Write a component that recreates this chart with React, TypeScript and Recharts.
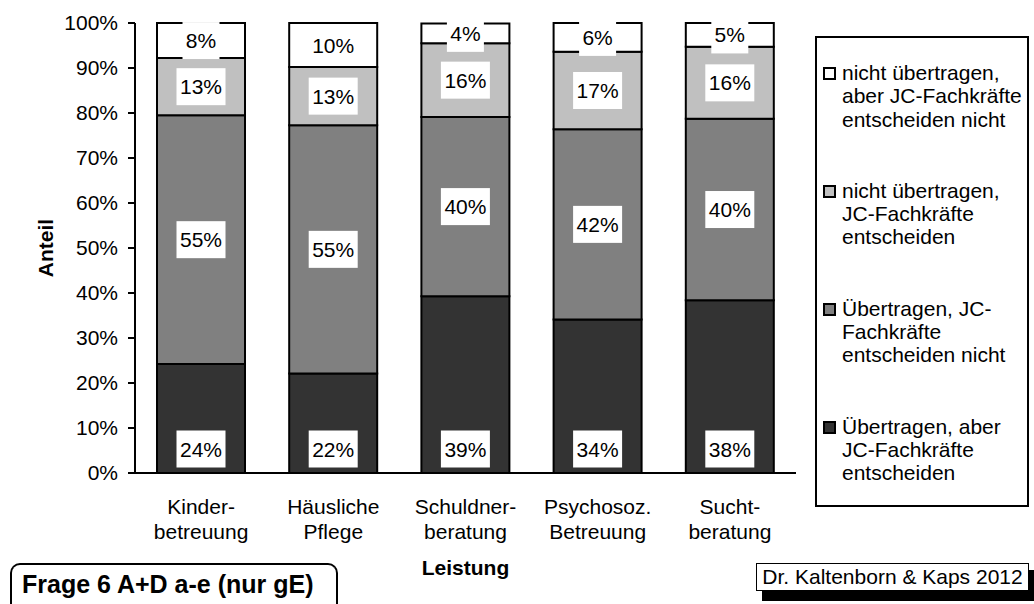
import React from 'react';
import { BarChart, Bar, XAxis, YAxis, LabelList, Label } from 'recharts';

// Leistungen (x categories), line break marks the hyphenated wrap
const categories = ['Kinder-\nbetreuung', 'Häusliche\nPflege', 'Schuldner-\nberatung', 'Psychosoz.\nBetreuung', 'Sucht-\nberatung'];

// shares in percent
const uebertragenAberEntscheiden = [24.2, 22.1, 39.3, 34.1, 38.4];
const uebertragenNichtEntscheiden = [55.3, 55.2, 39.8, 42.3, 40.3];
const nichtUebertragenEntscheiden = [12.7, 12.9, 16.4, 17.2, 16.0];
const nichtUebertragenNicht = [7.8, 9.8, 4.4, 6.4, 5.3];

const yTicks = [0, 10, 20, 30, 40, 50, 60, 70, 80, 90, 100];

const series = [
    { key: 'a', name: 'Übertragen, aber\nJC-Fachkräfte\nentscheiden', fill: '#333333', values: uebertragenAberEntscheiden },
    { key: 'b', name: 'Übertragen, JC-\nFachkräfte\nentscheiden nicht', fill: '#808080', values: uebertragenNichtEntscheiden },
    { key: 'c', name: 'nicht übertragen,\nJC-Fachkräfte\nentscheiden', fill: '#c0c0c0', values: nichtUebertragenEntscheiden },
    { key: 'd', name: 'nicht übertragen,\naber JC-Fachkräfte\nentscheiden nicht', fill: '#ffffff', values: nichtUebertragenNicht },
];

const data = categories.map((name, i) => {
    const row: any = { name };
    series.forEach(s => { row[s.key] = s.values[i]; });
    return row;
});

const FONT = 'Arial, "Liberation Sans", sans-serif';

const makeLabel = (atBottom: boolean) => (props: any) => {
    const { x, y, width, height, value } = props;
    const txt = Math.round(value) + '%';
    const w = txt.length > 2 ? 49 : 37;
    const h = 37;
    const cx = x + width / 2;
    const cy = atBottom ? y + height - 24 : y + height / 2;
    return (
        <g>
            <rect x={cx - w / 2} y={cy - h / 2} width={w} height={h} fill="#fff" />
            <text x={cx} y={cy} textAnchor="middle" dominantBaseline="central" fontSize={21} fontFamily={FONT} fill="#000">
                {txt}
            </text>
        </g>
    );
};

const CategoryTick = ({ x, y, payload }: any) => {
    const lines = String(payload.value).split('\n');
    return (
        <text x={x} y={y} textAnchor="middle" fontSize={21} fontFamily={FONT} fill="#000">
            {lines.map((l, i) => (
                <tspan key={i} x={x} y={y + 39 + i * 25}>{l}</tspan>
            ))}
        </text>
    );
};

const Legendbox = () => (
    <div style={{
        position: 'absolute', left: 815, top: 36, width: 214, height: 471,
        border: '2px solid #000', background: '#fff', fontFamily: FONT, fontSize: 21,
        padding: '23px 0 0 0', boxSizing: 'border-box',
    }}>
        {[...series].reverse().map((s, i) => (
            <div key={s.key} style={{ display: 'flex', alignItems: 'flex-start', lineHeight: '23.3px', marginTop: i === 0 ? 0 : 48 }}>
                <div style={{ width: 9, height: 9, border: '2px solid #000', background: s.fill, margin: '6px 6px 0 6px', flex: 'none' }} />
                <div style={{ whiteSpace: 'pre' }}>{s.name}</div>
            </div>
        ))}
    </div>
);

export default function App() {
    return (
        <div style={{ position: 'absolute', left: 0, top: 0, width: 1034, height: 604, background: '#fff', overflow: 'hidden' }}>
            <BarChart width={1034} height={604} data={data} margin={{ top: 23, right: 238, bottom: 27, left: 15 }} barCategoryGap={22}>
                <XAxis
                    dataKey="name"
                    height={104}
                    axisLine={{ stroke: '#000', strokeWidth: 2 }}
                    tickLine={false}
                    tickSize={0}
                    tick={<CategoryTick />}
                    interval={0}
                >
                    <Label content={({ viewBox }: any) => (
                        <text x={viewBox.x + viewBox.width / 2} y={viewBox.y + 94} textAnchor="middle" dominantBaseline="central"
                            fontSize={21} fontWeight="bold" fontFamily={FONT} fill="#000">Leistung</text>
                    )} />
                </XAxis>
                <YAxis
                    type="number"
                    domain={[0, 100]}
                    ticks={yTicks}
                    width={120}
                    tickFormatter={(v: number) => v + '%'}
                    axisLine={{ stroke: '#000', strokeWidth: 2 }}
                    tickLine={{ stroke: '#000', strokeWidth: 2 }}
                    tickSize={7}
                    tickMargin={10}
                    tick={{ fill: '#000', fontSize: 21, fontFamily: FONT }}
                    interval={0}
                >
                    <Label content={({ viewBox }: any) => (
                        <text x={viewBox.x + 30} y={viewBox.y + viewBox.height / 2} textAnchor="middle" dominantBaseline="central"
                            transform={`rotate(-90 ${viewBox.x + 30} ${viewBox.y + viewBox.height / 2})`}
                            fontSize={21} fontWeight="bold" fontFamily={FONT} fill="#000">Anteil</text>
                    )} />
                </YAxis>
                {series.map((s, idx) => (
                    <Bar key={s.key} dataKey={s.key} name={s.name} stackId="s" fill={s.fill} stroke="#000" strokeWidth={2} isAnimationActive={false}>
                        <LabelList dataKey={s.key} content={makeLabel(idx === 0)} />
                    </Bar>
                ))}
            </BarChart>
            <Legendbox />
            <div style={{
                position: 'absolute', left: 10, top: 563, width: 328, height: 60, boxSizing: 'border-box',
                border: '2.5px solid #000', borderBottom: 'none', borderRadius: '10px 10px 0 0', background: '#fff',
                fontFamily: FONT, fontSize: 25, fontWeight: 'bold', lineHeight: '26px', padding: '6px 0 0 10px', whiteSpace: 'nowrap',
            }}>Frage 6 A+D a-e (nur gE)</div>
            <div style={{ position: 'absolute', left: 762, top: 570, width: 272, height: 31, background: '#000' }} />
            <div style={{
                position: 'absolute', left: 756, top: 563, width: 273, height: 28, boxSizing: 'border-box',
                border: '1.5px solid #000', background: '#fff', fontFamily: FONT, fontSize: 21, lineHeight: '25px', textAlign: 'center',
            }}>Dr. Kaltenborn &amp; Kaps 2012</div>
        </div>
    );
}
